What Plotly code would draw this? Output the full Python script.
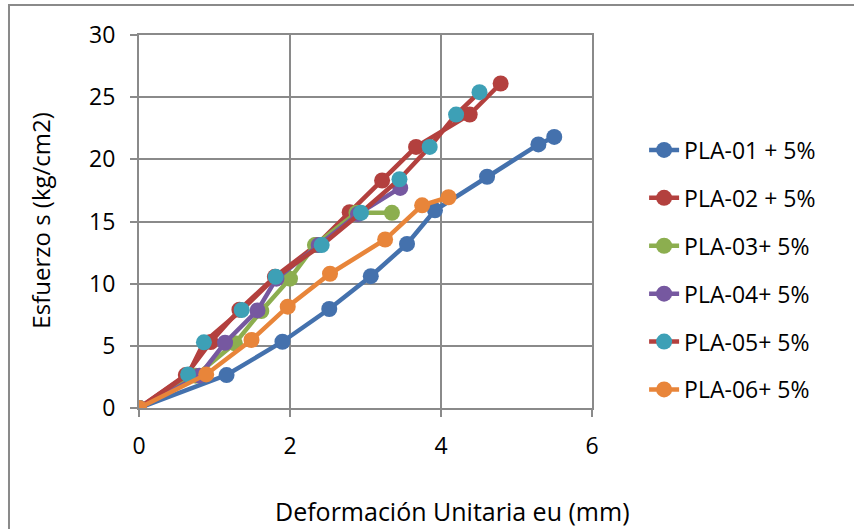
import plotly.graph_objects as go

# Stress-strain readings per specimen (strain in mm, stress in kg/cm2)
pla01_x = [0, 1.16, 1.90, 2.52, 3.07, 3.55, 3.92, 4.61, 5.29, 5.50]
pla01_y = [0, 2.65, 5.33, 7.96, 10.6, 13.2, 15.9, 18.6, 21.2, 21.8]

pla02_x = [0, 0.62, 0.95, 1.33, 1.80, 2.35, 2.79, 3.22, 3.67, 4.38, 4.79]
pla02_y = [0, 2.65, 5.3, 7.9, 10.55, 13.1, 15.75, 18.3, 21.0, 23.6, 26.1]

pla03_x = [0, 0.75, 1.27, 1.62, 2.00, 2.33, 2.88, 3.35]
pla03_y = [0, 2.6, 5.2, 7.8, 10.4, 13.1, 15.7, 15.7]

pla04_x = [0, 0.80, 1.14, 1.57, 1.82, 2.38, 2.90, 3.46]
pla04_y = [0, 2.6, 5.25, 7.85, 10.4, 13.1, 15.6, 17.7]

pla05_x = [0, 0.65, 0.86, 1.36, 1.81, 2.42, 2.94, 3.45, 3.85, 4.20, 4.51]
pla05_y = [0, 2.7, 5.28, 7.88, 10.55, 13.1, 15.7, 18.4, 21.0, 23.6, 25.4]

pla06_x = [0, 0.89, 1.49, 1.97, 2.53, 3.26, 3.75, 4.10]
pla06_y = [0, 2.7, 5.47, 8.15, 10.8, 13.55, 16.3, 16.95]

series_names = ["PLA-01 + 5%", "PLA-02 + 5%", "PLA-03+ 5%",
                "PLA-04+ 5%", "PLA-05+ 5%", "PLA-06+ 5%"]
x_values = [pla01_x, pla02_x, pla03_x, pla04_x, pla05_x, pla06_x]
y_values = [pla01_y, pla02_y, pla03_y, pla04_y, pla05_y, pla06_y]

line_colors = ["#4471AD", "#B3403E", "#8CAE4F", "#7658A0", "#B3403E", "#E8853A"]
marker_colors = ["#4471AD", "#B3403E", "#8CAE4F", "#7658A0", "#3DA0B6", "#E8853A"]

FONT = "Open Sans, Lato, sans-serif"
GRID = "#8A8A8A"

fig = go.Figure()
for i, name in enumerate(series_names):
    fig.add_trace(go.Scatter(
        x=x_values[i], y=y_values[i], name=name,
        mode="lines+markers",
        legendgroup=f"g{i}",
        line=dict(color=line_colors[i], width=4.5),
        marker=dict(color=marker_colors[i], size=16, line=dict(width=0)),
    ))

fig.update_layout(
    width=854, height=529,
    margin=dict(l=139, r=262, t=35, b=121),
    paper_bgcolor="white", plot_bgcolor="white",
    font=dict(family=FONT, size=23, color="#000000"),
    showlegend=True,
    legend=dict(
        x=1.115, y=0.37, xanchor="left", yanchor="middle",
        font=dict(family=FONT, size=23, color="#000000"),
        tracegroupgap=15, bgcolor="rgba(0,0,0,0)",
    ),
    xaxis=dict(
        range=[0, 6], dtick=2, tick0=0,
        showgrid=True, gridcolor=GRID, gridwidth=2,
        showline=True, linecolor=GRID, linewidth=2, mirror=True,
        ticks="outside", ticklen=7, tickwidth=2, tickcolor=GRID,
        ticklabelstandoff=9,
        zeroline=False,
    ),
    yaxis=dict(
        range=[0, 30], dtick=5, tick0=0,
        showgrid=True, gridcolor=GRID, gridwidth=2,
        showline=True, linecolor=GRID, linewidth=2, mirror=True,
        ticks="outside", ticklen=7, tickwidth=2, tickcolor=GRID,
        ticklabelstandoff=10,
        zeroline=False,
    ),
    annotations=[
        dict(text="Deformación Unitaria eu (mm)", xref="paper", yref="paper",
             x=0.693, y=-0.276, xanchor="center", yanchor="middle",
             showarrow=False, font=dict(family=FONT, size=25, color="#000000")),
        dict(text="Esfuerzo s (kg/cm2)", xref="paper", yref="paper",
             x=-0.218, y=0.503, xanchor="center", yanchor="middle", textangle=-90,
             showarrow=False, font=dict(family=FONT, size=24, color="#000000")),
    ],
)

# Outer chart frame
fig.add_shape(type="rect", xref="paper", yref="paper",
              x0=-0.287, x1=1.6, y0=-0.4, y1=1.0804,
              line=dict(color="#8A8A8A", width=2), layer="below")

fig.write_html("out.html")
